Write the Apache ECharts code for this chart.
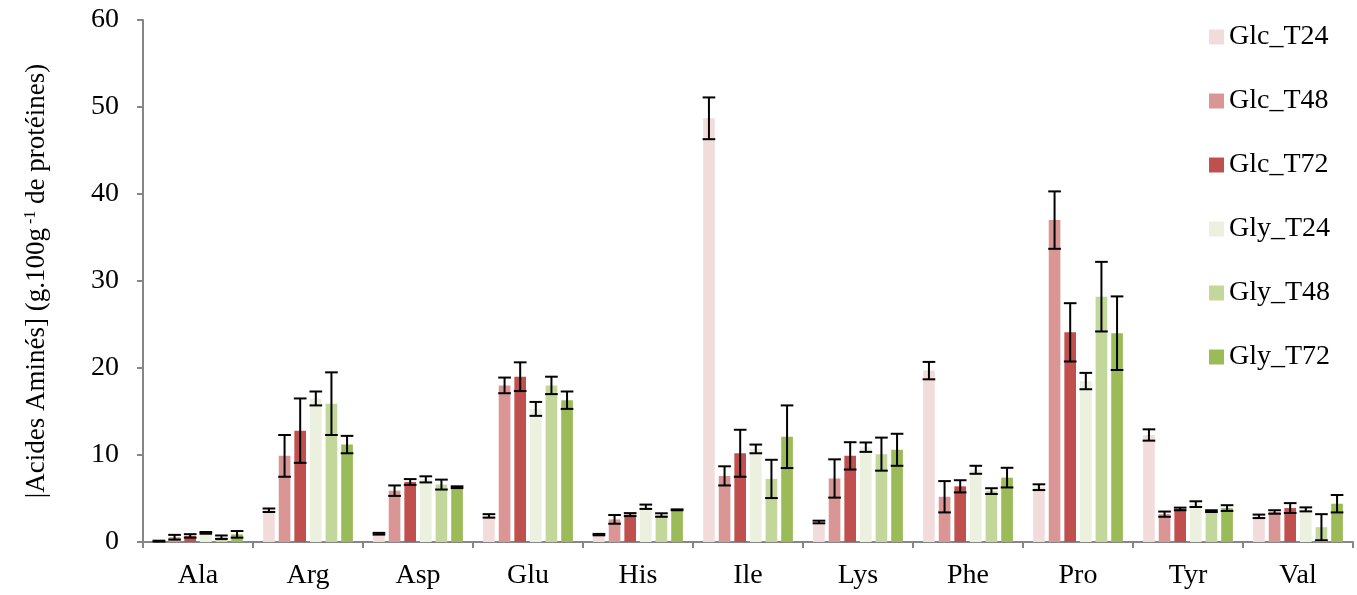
<!DOCTYPE html>
<html>
<head>
<meta charset="utf-8">
<script src="https://cdn.jsdelivr.net/npm/echarts@6/dist/echarts.min.js"></script>
<style>
html,body{margin:0;padding:0;background:#fff;}
#chart{width:1357px;height:595px;}
</style>
</head>
<body>
<div id="chart"></div>
<script>
var categories = ['Ala','Arg','Asp','Glu','His','Ile','Lys','Phe','Pro','Tyr','Val'];
var seriesNames = ['Glc_T24','Glc_T48','Glc_T72','Gly_T24','Gly_T48','Gly_T72'];
var yTicks = [0,10,20,30,40,50,60];

var glcT24    = [0.1, 3.65, 0.95, 3.0, 0.85, 48.7, 2.3, 19.7, 6.3, 12.3, 2.95];
var glcT24Err = [0.05, 0.2, 0.1, 0.2, 0.08, 2.4, 0.15, 1.0, 0.33, 0.65, 0.2];
var glcT48    = [0.55, 9.9, 5.9, 18.0, 2.6, 7.6, 7.3, 5.2, 37.0, 3.2, 3.45];
var glcT48Err = [0.27, 2.4, 0.6, 0.9, 0.5, 1.1, 2.2, 1.8, 3.3, 0.3, 0.2];
var glcT72    = [0.7, 12.8, 6.9, 19.0, 3.15, 10.2, 9.9, 6.4, 24.1, 3.8, 3.9];
var glcT72Err = [0.2, 3.7, 0.33, 1.65, 0.17, 2.7, 1.57, 0.7, 3.35, 0.15, 0.57];
var glyT24    = [1.05, 16.5, 7.2, 15.3, 4.05, 10.7, 10.9, 8.3, 18.5, 4.35, 3.75];
var glyT24Err = [0.1, 0.8, 0.35, 0.8, 0.25, 0.5, 0.54, 0.46, 0.94, 0.33, 0.23];
var glyT48    = [0.55, 15.9, 6.6, 18.0, 3.1, 7.25, 10.1, 5.85, 28.2, 3.55, 1.7];
var glyT48Err = [0.2, 3.6, 0.57, 1.0, 0.2, 2.2, 1.9, 0.33, 4.0, 0.1, 1.5];
var glyT72    = [0.88, 11.2, 6.3, 16.3, 3.7, 12.1, 10.6, 7.4, 24.0, 3.9, 4.4];
var glyT72Err = [0.38, 1.0, 0.1, 1.0, 0.05, 3.6, 1.84, 1.13, 4.23, 0.33, 1.0];

var values = [glcT24, glcT48, glcT72, glyT24, glyT48, glyT72];
var errors = [glcT24Err, glcT48Err, glcT72Err, glyT24Err, glyT48Err, glyT72Err];
var colors = ['#F2DCDB','#DA9694','#C0504D','#EBF1DE','#C4D79B','#9BBB59'];

var BAR_FRAC = 0.106;   // bar width as fraction of category band
var GAP_FRAC = 0.34;    // gap between bars as fraction of bar width
var FONT = '"Liberation Serif","Times New Roman",serif';

var series = [];
seriesNames.forEach(function(name, s){
  series.push({
    name: name,
    type: 'bar',
    barWidth: (BAR_FRAC*100) + '%',
    barGap: (GAP_FRAC*100) + '%',
    itemStyle: {color: colors[s]},
    data: values[s]
  });
});
seriesNames.forEach(function(name, s){
  var data = categories.map(function(c, i){ return [i, values[s][i], errors[s][i]]; });
  series.push({
    name: 'err_' + name,
    type: 'custom',
    z: 10,
    encode: {x: 0, y: 1},
    data: data,
    renderItem: function(params, api){
      var ci = api.value(0), v = api.value(1), e = api.value(2);
      var band = api.size([1, 0])[0];
      var w = band * BAR_FRAC;
      var gap = w * GAP_FRAC;
      var total = 6*w + 5*gap;
      var off = -total/2 + w/2 + s*(w + gap);
      var hi = api.coord([ci, v + e]);
      var lo = api.coord([ci, Math.max(0, v - e)]);
      var x = hi[0] + off;
      var hw = w/2 + 0.5;
      var st = {stroke: '#000', lineWidth: 2};
      return {
        type: 'group',
        children: [
          {type:'line', shape:{x1:x, y1:hi[1], x2:x, y2:lo[1]}, style: st},
          {type:'line', shape:{x1:x-hw, y1:hi[1], x2:x+hw, y2:hi[1]}, style: st},
          {type:'line', shape:{x1:x-hw, y1:lo[1], x2:x+hw, y2:lo[1]}, style: st}
        ]
      };
    }
  });
});

var chart = echarts.init(document.getElementById('chart'));
chart.setOption({
  animation: false,
  backgroundColor: '#fff',
  grid: {left: 143, right: 4, top: 20, bottom: 53},
  legend: {
    data: seriesNames,
    orient: 'vertical',
    left: 1204,
    top: 18,
    itemWidth: 15,
    itemHeight: 15,
    itemGap: 36,
    icon: 'rect',
    textStyle: {fontFamily: FONT, fontSize: 28, color: '#000'}
  },
  xAxis: {
    type: 'category',
    data: categories,
    axisLine: {lineStyle: {color: '#868686', width: 2}},
    axisTick: {show: true, length: 6, lineStyle: {color: '#868686', width: 2}},
    axisLabel: {fontFamily: FONT, fontSize: 28, color: '#000', margin: 20}
  },
  yAxis: {
    type: 'value',
    min: yTicks[0],
    max: yTicks[yTicks.length-1],
    interval: 10,
    splitLine: {show: false},
    axisLine: {show: true, lineStyle: {color: '#868686', width: 2}},
    axisTick: {show: true, length: 6, lineStyle: {color: '#868686', width: 2}},
    axisLabel: {fontFamily: FONT, fontSize: 28, color: '#000', margin: 24},
    name: '{m||Acides Aminés] (g.100g}{s|-1}{m| de protéines)}',
    nameLocation: 'middle',
    nameGap: 92,
    nameTextStyle: {
      fontFamily: FONT, fontSize: 27, color: '#000',
      rich: {
        m: {fontFamily: FONT, fontSize: 27, color: '#000'},
        s: {fontFamily: FONT, fontSize: 16, color: '#000', verticalAlign: 'top', padding: [0, 0, 12, 4]}
      }
    }
  },
  series: series
});
</script>
</body>
</html>
